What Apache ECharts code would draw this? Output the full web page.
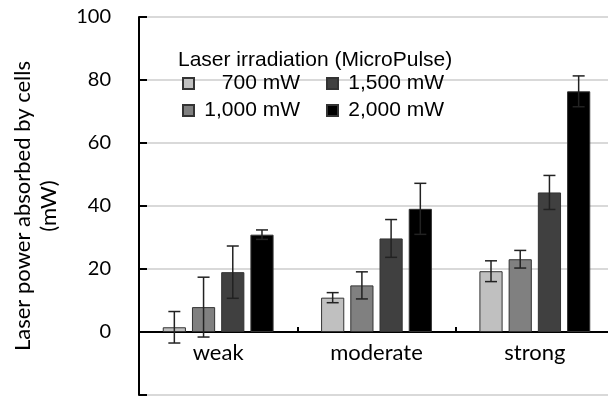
<!DOCTYPE html>
<html>
<head>
<meta charset="utf-8">
<script src="https://cdn.jsdelivr.net/npm/echarts@6/dist/echarts.min.js"></script>
<style>
  html, body { margin: 0; padding: 0; background: #fff; }
  #chart { width: 608px; height: 397px; }
</style>
</head>
<body>
<div id="chart"></div>
<script>
// categories and series values
const categories = ['weak', 'moderate', 'strong'];
const powers = ['700 mW', '1,000 mW', '1,500 mW', '2,000 mW'];
const mean700 = [1.5, 10.9, 19.3];
const err700 = [5.0, 1.6, 3.3];
const mean1000 = [7.9, 14.8, 23.1];
const err1000 = [9.5, 4.3, 2.8];
const mean1500 = [19.0, 29.7, 44.3];
const err1500 = [8.3, 6.0, 5.4];
const mean2000 = [30.9, 39.1, 76.4];
const err2000 = [1.5, 8.1, 4.9];
const yTicks = [-20, 0, 20, 40, 60, 80, 100];

const means = [mean700, mean1000, mean1500, mean2000];
const errs = [err700, err1000, err1500, err2000];
const barColors = ['#c0c0c0', '#808080', '#404040', '#000000'];

const catGap = 0.30;   // barCategoryGap
const barGap = 0.26;   // barGap

const gridTop = 17;
const gridBottom = 2;
const gridH = 397 - gridTop - gridBottom;
// x axis sits at value 0, above the -20 floor
const xOffset = -gridH * (0 - yTicks[0]) / (yTicks[yTicks.length - 1] - yTicks[0]);

const chart = echarts.init(document.getElementById('chart'));

// bar series
const barSeries = powers.map((name, i) => ({
    name: name,
    type: 'bar',
    data: means[i],
    barCategoryGap: '30%',
    barGap: '26%',
    itemStyle: {
        color: barColors[i],
        borderColor: '#333',
        borderWidth: 1
    },
    z: 2
}));

// error bars (custom series), one per power
const errSeries = powers.map((name, i) => ({
    name: name + ' err',
    type: 'custom',
    z: 5,
    data: categories.map((c, j) => [j, means[i][j] - errs[i][j], means[i][j] + errs[i][j]]),
    renderItem: function (params, api) {
        const band = api.size([1, 0])[0];
        const groupW = band * (1 - catGap);
        const barW = groupW / (4 + 3 * barGap);
        const off = -groupW / 2 + barW / 2 + i * barW * (1 + barGap);
        const lo = api.coord([api.value(0), api.value(1)]);
        const hi = api.coord([api.value(0), api.value(2)]);
        const x = lo[0] + off;
        const cap = 6;
        const style = { stroke: '#222', lineWidth: 1.5 };
        return {
            type: 'group',
            children: [
                { type: 'line', shape: { x1: x, y1: lo[1], x2: x, y2: hi[1] }, style: style },
                { type: 'line', shape: { x1: x - cap, y1: lo[1], x2: x + cap, y2: lo[1] }, style: style },
                { type: 'line', shape: { x1: x - cap, y1: hi[1], x2: x + cap, y2: hi[1] }, style: style }
            ]
        };
    }
}));

const legendText = {
    fontFamily: 'Liberation Sans',
    fontSize: 21,
    color: '#000',
    rich: {
        a: { width: 101, align: 'right', fontFamily: 'Liberation Sans', fontSize: 21, color: '#000' }
    }
};

const option = {
    animation: false,
    title: {
        text: 'Laser irradiation (MicroPulse)',
        left: 173,
        top: 45,
        textStyle: { fontFamily: 'Liberation Sans', fontSize: 21, fontWeight: 'normal', color: '#000' }
    },
    legend: [
        {
            data: [powers[0], powers[1]],
            orient: 'vertical',
            left: 177,
            top: 68,
            itemWidth: 11,
            itemHeight: 11,
            itemGap: 6,
            icon: 'rect',
            formatter: (n) => '{a|' + n + '}',
            textStyle: legendText
        },
        {
            data: [powers[2], powers[3]],
            orient: 'vertical',
            left: 321,
            top: 68,
            itemWidth: 11,
            itemHeight: 11,
            itemGap: 6,
            icon: 'rect',
            formatter: (n) => '{a|' + n + '}',
            textStyle: legendText
        }
    ],
    grid: {
        left: 139,
        right: -6,
        top: gridTop,
        bottom: gridBottom,
        outerBoundsMode: 'none'
    },
    xAxis: {
        type: 'category',
        data: categories,
        position: 'bottom',
        offset: xOffset,
        axisLine: { onZero: false, lineStyle: { color: '#000', width: 2 } },
        axisTick: { show: true, inside: true, length: 5, lineStyle: { color: '#000', width: 2 } },
        axisLabel: { fontFamily: 'Lato', fontSize: 22, color: '#000', margin: 10 },
        splitLine: { show: false }
    },
    yAxis: {
        type: 'value',
        min: yTicks[0],
        max: yTicks[yTicks.length - 1],
        interval: 20,
        name: 'Laser power absorbed by cells\n(mW)',
        nameLocation: 'middle',
        nameRotate: 90,
        nameGap: 77,
        nameTextStyle: { fontFamily: 'Lato', fontSize: 22, color: '#000', lineHeight: 26 },
        axisLine: { show: true, lineStyle: { color: '#000', width: 2 } },
        axisTick: { show: true, inside: true, length: 8, lineStyle: { color: '#000', width: 2 } },
        axisLabel: {
            fontFamily: 'Lato', fontSize: 20, color: '#000', margin: 28,
            formatter: (v) => (v < 0 ? '' : String(v))
        },
        splitLine: { show: true, lineStyle: { color: '#d9d9d9', width: 2 } }
    },
    series: barSeries.concat(errSeries)
};

chart.setOption(option);
</script>
</body>
</html>
